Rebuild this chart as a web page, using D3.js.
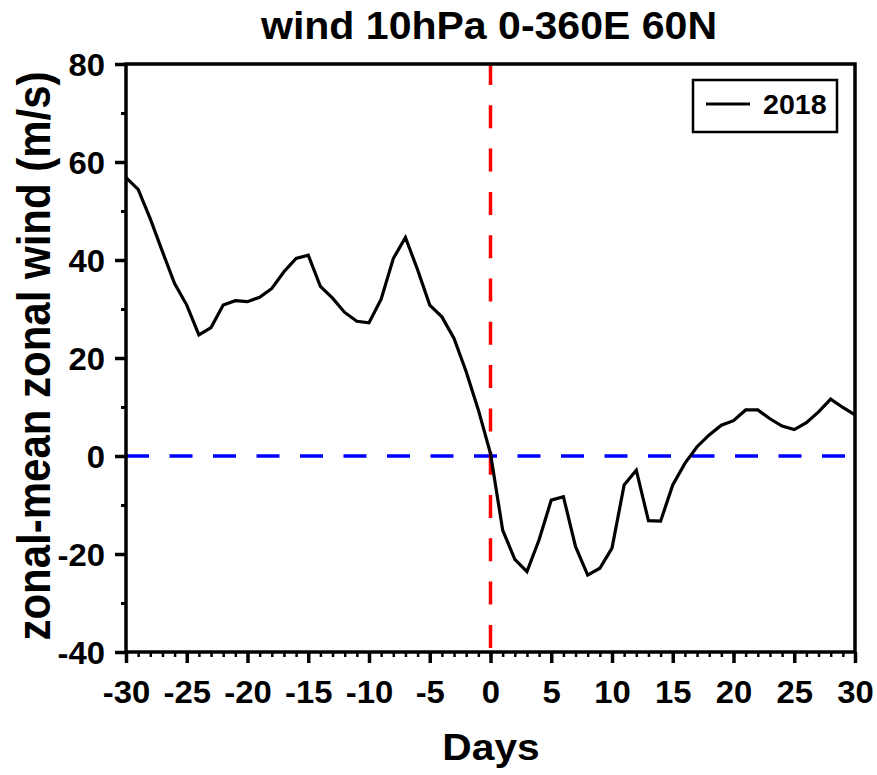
<!DOCTYPE html>
<html>
<head>
<meta charset="utf-8">
<script src="https://cdn.jsdelivr.net/npm/d3@7"></script>
<style>
  body { margin: 0; background: #fff; }
  text { font-family: "Liberation Sans", Arial, sans-serif; font-weight: bold; fill: #000; }
</style>
</head>
<body>
<script>
// days relative to the event and zonal-mean zonal wind (m/s) for 2018
const days = d3.range(-30, 31);
const wind2018 = [
  56.8, 54.4, 48.4, 41.7, 35.2, 30.8, 24.7, 26.2, 30.8, 31.7,
  31.5, 32.4, 34.2, 37.6, 40.3, 41.0, 34.6, 32.2, 29.3, 27.5,
  27.2, 32.0, 40.3, 44.6, 38.0, 30.8, 28.4, 24.0, 17.2, 9.4,
  0.5, -15.1, -21.1, -23.6, -17.1, -9.0, -8.3, -18.5, -24.3, -22.9,
  -18.8, -5.9, -2.9, -13.2, -13.3, -5.9, -1.5, 1.9, 4.3, 6.3,
  7.2, 9.4, 9.4, 7.6, 6.1, 5.4, 6.8, 9.0, 11.6, 9.9,
  8.4
];
const xTicks = [-30, -25, -20, -15, -10, -5, 0, 5, 10, 15, 20, 25, 30];
const yTicks = [-40, -20, 0, 20, 40, 60, 80];
const seriesName = "2018";

// the picture's text is a little wider than plain Arial
const sx = 1.06;

const drawViz = () => {
  const width = 877;
  const height = 775;
  const margin = {top: 64, bottom: 123, left: 126, right: 22};

  const data = days.map((d, i) => ({day: d, wind: wind2018[i]}));

  const xScale = d3.scaleLinear()
    .domain([-30, 30])
    .range([margin.left, width - margin.right]);

  const yScale = d3.scaleLinear()
    .domain([-40, 80])
    .range([height - margin.bottom, margin.top]);

  const svg = d3.select('body')
    .append('svg')
    .attr('width', width)
    .attr('height', height);

  // reference lines
  svg.append('line')
    .attr('x1', xScale(-30)).attr('x2', xScale(30))
    .attr('y1', yScale(0)).attr('y2', yScale(0))
    .attr('stroke', '#0000ff')
    .attr('stroke-width', 3.5)
    .attr('stroke-dasharray', '23,20.5');

  svg.append('line')
    .attr('x1', xScale(0)).attr('x2', xScale(0))
    .attr('y1', yScale(80)).attr('y2', yScale(-40))
    .attr('stroke', '#ff0000')
    .attr('stroke-width', 3.5)
    .attr('stroke-dasharray', '23,20.3')
    .attr('stroke-dashoffset', 2);

  // data line
  const line = d3.line()
    .x((d) => xScale(d.day))
    .y((d) => yScale(d.wind));

  svg.append('path')
    .datum(data)
    .attr('fill', 'none')
    .attr('stroke', '#000')
    .attr('stroke-width', 3.2)
    .attr('d', line);

  // x axis: minor ticks every day, major every 5
  const xMinor = svg.append('g')
    .attr('transform', `translate(0, ${yScale(-40)})`)
    .call(d3.axisBottom(xScale).tickValues(d3.range(-30, 31, 1)).tickSize(5).tickFormat(''));
  xMinor.select('.domain').remove();
  xMinor.selectAll('.tick line').attr('stroke-width', 2.5);

  const xMajor = svg.append('g')
    .attr('transform', `translate(0, ${yScale(-40)})`)
    .call(d3.axisBottom(xScale).tickValues(xTicks).tickSize(11));
  xMajor.select('.domain').remove();
  xMajor.selectAll('.tick line').attr('stroke-width', 3.5);
  xMajor.selectAll('.tick text')
    .attr('y', 0).attr('dy', 0)
    .attr('transform', `translate(0, 51) scale(${sx}, 1)`)
    .attr('font-size', 31)
    .attr('font-family', null)
    .text((d) => d < 0 ? '-' + Math.abs(d) : d);

  // y axis: minor every 10, major every 20
  const yMinor = svg.append('g')
    .attr('transform', `translate(${xScale(-30)}, 0)`)
    .call(d3.axisLeft(yScale).tickValues(d3.range(-40, 81, 10)).tickSize(5).tickFormat(''));
  yMinor.select('.domain').remove();
  yMinor.selectAll('.tick line').attr('stroke-width', 3);

  const yMajor = svg.append('g')
    .attr('transform', `translate(${xScale(-30)}, 0)`)
    .call(d3.axisLeft(yScale).tickValues(yTicks).tickSize(11));
  yMajor.select('.domain').remove();
  yMajor.selectAll('.tick line').attr('stroke-width', 3.5);
  yMajor.selectAll('.tick text')
    .attr('x', 0).attr('dy', '0.36em')
    .attr('transform', `translate(-21, 0) scale(${sx}, 1)`)
    .attr('font-size', 31)
    .attr('font-family', null)
    .text((d) => d < 0 ? '-' + Math.abs(d) : d);

  // frame
  svg.append('rect')
    .attr('x', xScale(-30)).attr('y', yScale(80))
    .attr('width', xScale(30) - xScale(-30))
    .attr('height', yScale(-40) - yScale(80))
    .attr('fill', 'none')
    .attr('stroke', '#000')
    .attr('stroke-width', 3.5);

  // titles
  svg.append('text')
    .attr('transform', `translate(489, 39) scale(1.08, 1)`)
    .attr('text-anchor', 'middle')
    .attr('font-size', 38)
    .text('wind 10hPa 0-360E 60N');

  svg.append('text')
    .attr('transform', `translate(491, 760) scale(1.1, 1)`)
    .attr('text-anchor', 'middle')
    .attr('font-size', 37)
    .text('Days');

  svg.append('text')
    .attr('transform', `translate(50, 356) scale(1.1, 1) rotate(-90)`)
    .attr('text-anchor', 'middle')
    .attr('font-size', 42)
    .text('zonal-mean zonal wind (m/s)');

  // legend
  const legend = svg.append('g');
  legend.append('rect')
    .attr('x', 693).attr('y', 80)
    .attr('width', 144).attr('height', 52)
    .attr('fill', '#fff')
    .attr('stroke', '#000')
    .attr('stroke-width', 2.5);
  legend.append('line')
    .attr('x1', 706).attr('x2', 750)
    .attr('y1', 104).attr('y2', 104)
    .attr('stroke', '#000')
    .attr('stroke-width', 3.2);
  legend.append('text')
    .attr('transform', `translate(763, 114) scale(${sx}, 1)`)
    .attr('font-size', 27)
    .text(seriesName);
};

drawViz();
</script>
</body>
</html>
